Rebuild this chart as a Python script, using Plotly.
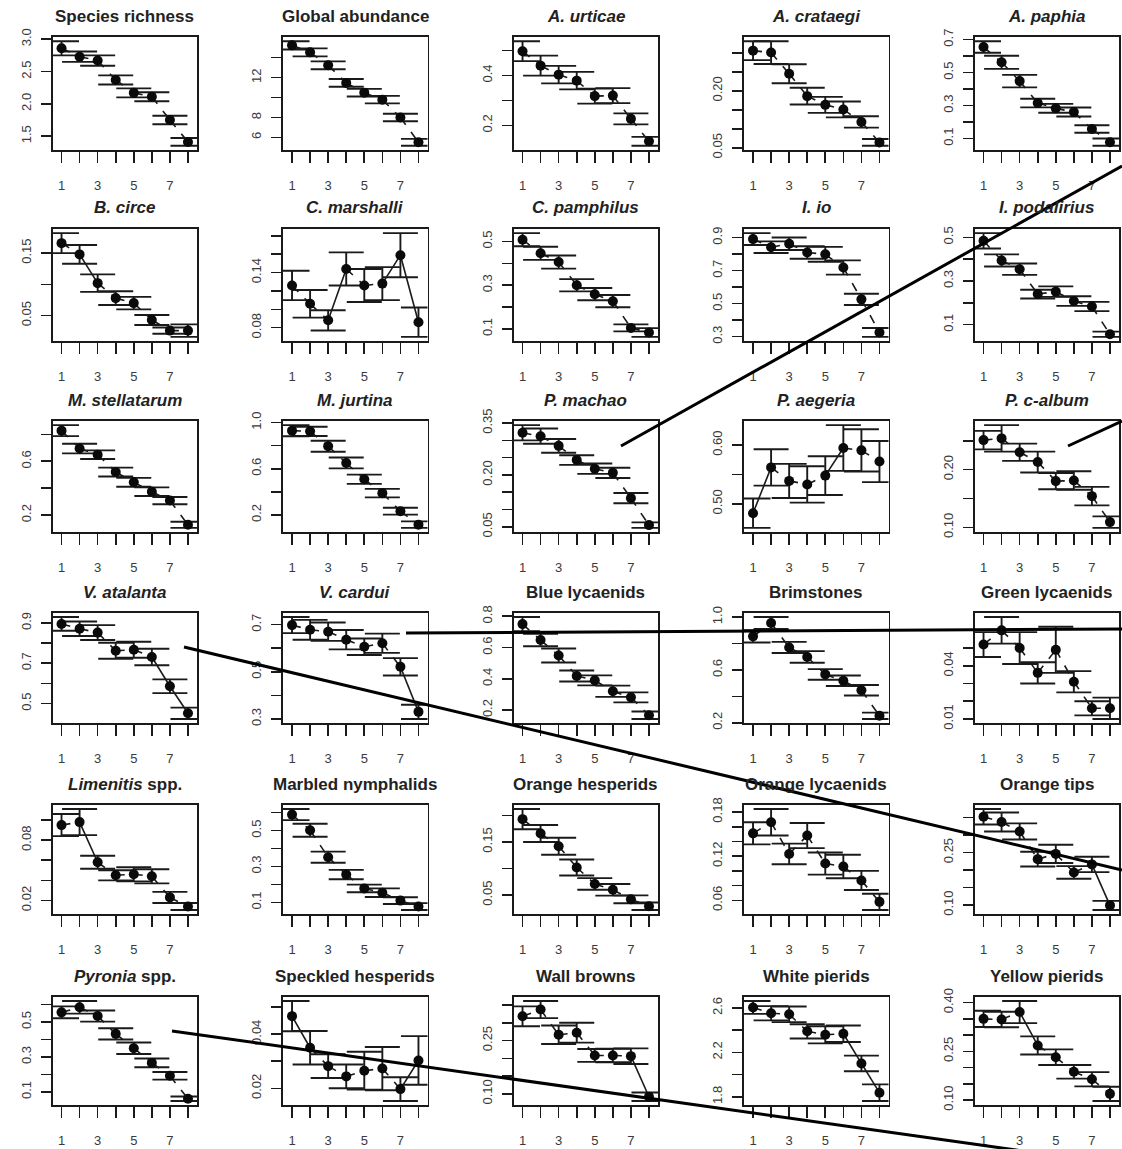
import plotly.graph_objects as go

# ---------------- data ----------------
x_steps = [1, 2, 3, 4, 5, 6, 7, 8]
x_tick_text = ["1", "", "3", "", "5", "", "7", ""]

panel_titles = [
    "Species richness", "Global abundance", "<i>A. urticae</i>", "<i>A. crataegi</i>", "<i>A. paphia</i>",
    "<i>B. circe</i>", "<i>C. marshalli</i>", "<i>C. pamphilus</i>", "<i>I. io</i>", "<i>I. podalirius</i>",
    "<i>M. stellatarum</i>", "<i>M. jurtina</i>", "<i>P. machao</i>", "<i>P. aegeria</i>", "<i>P. c-album</i>",
    "<i>V. atalanta</i>", "<i>V. cardui</i>", "Blue lycaenids", "Brimstones", "Green lycaenids",
    "<i>Limenitis</i> spp.", "Marbled nymphalids", "Orange hesperids", "Orange lycaenids", "Orange tips",
    "<i>Pyronia</i> spp.", "Speckled hesperids", "Wall browns", "White pierids", "Yellow pierids",
]

# means and half-widths of the confidence intervals
species_richness_mean = [2.86, 2.73, 2.67, 2.37, 2.17, 2.11, 1.75, 1.41]
species_richness_ci = [0.11, 0.08, 0.08, 0.07, 0.07, 0.07, 0.065, 0.06]
global_abundance_mean = [15.23, 14.53, 13.23, 11.47, 10.49, 9.79, 8.0, 5.51]
global_abundance_ci = [0.42, 0.4, 0.4, 0.39, 0.38, 0.38, 0.37, 0.35]
a_urticae_mean = [0.497, 0.439, 0.403, 0.379, 0.317, 0.319, 0.226, 0.136]
a_urticae_ci = [0.04, 0.04, 0.035, 0.035, 0.03, 0.03, 0.022, 0.018]
a_crataegi_mean = [0.306, 0.301, 0.245, 0.186, 0.163, 0.151, 0.118, 0.064]
a_crataegi_ci = [0.025, 0.03, 0.025, 0.022, 0.021, 0.021, 0.015, 0.009]
a_paphia_mean = [0.655, 0.562, 0.448, 0.315, 0.283, 0.261, 0.158, 0.078]
a_paphia_ci = [0.035, 0.04, 0.038, 0.026, 0.027, 0.027, 0.023, 0.022]
b_circe_mean = [0.166, 0.148, 0.102, 0.078, 0.070, 0.043, 0.026, 0.026]
b_circe_ci = [0.016, 0.015, 0.014, 0.011, 0.01, 0.008, 0.005, 0.01]
c_marshalli_mean = [0.126, 0.106, 0.088, 0.144, 0.126, 0.128, 0.159, 0.086]
c_marshalli_ci = [0.016, 0.015, 0.011, 0.018, 0.018, 0.018, 0.024, 0.016]
c_pamphilus_mean = [0.508, 0.446, 0.406, 0.300, 0.259, 0.227, 0.105, 0.084]
c_pamphilus_ci = [0.03, 0.03, 0.03, 0.028, 0.028, 0.028, 0.016, 0.02]
i_io_mean = [0.891, 0.842, 0.863, 0.81, 0.799, 0.719, 0.526, 0.326]
i_io_ci = [0.036, 0.035, 0.038, 0.038, 0.045, 0.043, 0.034, 0.027]
i_podalirius_mean = [0.484, 0.394, 0.354, 0.24, 0.251, 0.208, 0.183, 0.056]
i_podalirius_ci = [0.035, 0.028, 0.026, 0.02, 0.024, 0.022, 0.021, 0.012]
m_stellatarum_mean = [0.828, 0.695, 0.649, 0.52, 0.444, 0.374, 0.308, 0.128]
m_stellatarum_ci = [0.041, 0.036, 0.032, 0.033, 0.033, 0.032, 0.027, 0.023]
m_jurtina_mean = [0.93, 0.924, 0.795, 0.65, 0.509, 0.389, 0.233, 0.116]
m_jurtina_ci = [0.048, 0.04, 0.048, 0.047, 0.04, 0.037, 0.03, 0.028]
p_machao_mean = [0.322, 0.312, 0.284, 0.243, 0.218, 0.206, 0.133, 0.055]
p_machao_ci = [0.022, 0.022, 0.02, 0.014, 0.015, 0.015, 0.015, 0.008]
p_aegeria_mean = [0.484, 0.562, 0.539, 0.533, 0.548, 0.595, 0.591, 0.572]
p_aegeria_ci = [0.025, 0.031, 0.029, 0.031, 0.033, 0.039, 0.036, 0.035]
p_c_album_mean = [0.251, 0.254, 0.23, 0.213, 0.18, 0.181, 0.154, 0.109]
p_c_album_ci = [0.016, 0.023, 0.015, 0.018, 0.014, 0.016, 0.016, 0.01]
v_atalanta_mean = [0.895, 0.871, 0.852, 0.762, 0.767, 0.731, 0.586, 0.452]
v_atalanta_ci = [0.034, 0.036, 0.037, 0.04, 0.04, 0.041, 0.034, 0.028]
v_cardui_mean = [0.698, 0.678, 0.67, 0.636, 0.606, 0.621, 0.521, 0.33]
v_cardui_ci = [0.034, 0.042, 0.039, 0.041, 0.035, 0.041, 0.037, 0.03]
blue_lycaenids_mean = [0.75, 0.648, 0.549, 0.418, 0.39, 0.32, 0.281, 0.167]
blue_lycaenids_ci = [0.045, 0.04, 0.045, 0.035, 0.032, 0.036, 0.032, 0.024]
brimstones_mean = [0.854, 0.955, 0.77, 0.698, 0.566, 0.518, 0.446, 0.253]
brimstones_ci = [0.046, 0.045, 0.042, 0.044, 0.04, 0.04, 0.04, 0.024]
green_lycaenids_mean = [0.052, 0.06, 0.05, 0.036, 0.049, 0.031, 0.016, 0.016]
green_lycaenids_ci = [0.007, 0.0075, 0.009, 0.006, 0.013, 0.006, 0.004, 0.006]
limenitis_mean = [0.095, 0.098, 0.058, 0.045, 0.046, 0.044, 0.023, 0.014]
limenitis_ci = [0.011, 0.013, 0.0065, 0.005, 0.007, 0.007, 0.0055, 0.0035]
marbled_nymphalids_mean = [0.589, 0.502, 0.352, 0.255, 0.178, 0.154, 0.11, 0.077]
marbled_nymphalids_ci = [0.031, 0.036, 0.031, 0.026, 0.021, 0.024, 0.019, 0.019]
orange_hesperids_mean = [0.193, 0.166, 0.142, 0.102, 0.071, 0.06, 0.042, 0.029]
orange_hesperids_ci = [0.019, 0.016, 0.016, 0.015, 0.011, 0.011, 0.0075, 0.007]
orange_lycaenids_mean = [0.151, 0.166, 0.123, 0.148, 0.11, 0.106, 0.087, 0.058]
orange_lycaenids_ci = [0.015, 0.018, 0.014, 0.017, 0.015, 0.016, 0.013, 0.011]
orange_tips_mean = [0.352, 0.337, 0.31, 0.231, 0.246, 0.193, 0.216, 0.099]
orange_tips_ci = [0.022, 0.027, 0.023, 0.021, 0.026, 0.018, 0.022, 0.013]
pyronia_mean = [0.555, 0.584, 0.534, 0.432, 0.35, 0.266, 0.192, 0.061]
pyronia_ci = [0.034, 0.036, 0.032, 0.032, 0.033, 0.025, 0.022, 0.013]
speckled_hesperids_mean = [0.0467, 0.035, 0.0282, 0.0244, 0.0265, 0.0273, 0.0197, 0.0303]
speckled_hesperids_ci = [0.0056, 0.0062, 0.0044, 0.0044, 0.007, 0.008, 0.0044, 0.009]
wall_browns_mean = [0.318, 0.337, 0.266, 0.272, 0.208, 0.208, 0.206, 0.092]
wall_browns_ci = [0.028, 0.024, 0.026, 0.028, 0.018, 0.019, 0.022, 0.012]
white_pierids_mean = [2.604, 2.552, 2.542, 2.389, 2.358, 2.367, 2.1, 1.837]
white_pierids_ci = [0.058, 0.064, 0.07, 0.064, 0.077, 0.074, 0.07, 0.075]
yellow_pierids_mean = [0.35, 0.348, 0.371, 0.268, 0.232, 0.187, 0.164, 0.119]
yellow_pierids_ci = [0.025, 0.024, 0.034, 0.028, 0.024, 0.021, 0.022, 0.022]

# y-axis ticks and their labels (empty = label dropped, as in the original)
y_ticks = [
    [1.5, 2.0, 2.5, 3.0], [6, 8, 10, 12, 14], [0.2, 0.3, 0.4, 0.5],
    [0.05, 0.10, 0.15, 0.20, 0.25, 0.30], [0.1, 0.2, 0.3, 0.4, 0.5, 0.6, 0.7],
    [0.05, 0.10, 0.15], [0.08, 0.10, 0.12, 0.14, 0.16, 0.18], [0.1, 0.2, 0.3, 0.4, 0.5],
    [0.3, 0.4, 0.5, 0.6, 0.7, 0.8, 0.9], [0.1, 0.2, 0.3, 0.4, 0.5],
    [0.2, 0.4, 0.6, 0.8], [0.2, 0.4, 0.6, 0.8, 1.0], [0.05, 0.10, 0.15, 0.20, 0.25, 0.30, 0.35],
    [0.50, 0.55, 0.60], [0.10, 0.15, 0.20, 0.25],
    [0.5, 0.6, 0.7, 0.8, 0.9], [0.3, 0.4, 0.5, 0.6, 0.7], [0.2, 0.4, 0.6, 0.8],
    [0.2, 0.4, 0.6, 0.8, 1.0], [0.01, 0.02, 0.03, 0.04, 0.05, 0.06],
    [0.02, 0.04, 0.06, 0.08, 0.10], [0.1, 0.2, 0.3, 0.4, 0.5, 0.6], [0.05, 0.10, 0.15, 0.20],
    [0.06, 0.08, 0.10, 0.12, 0.14, 0.16, 0.18], [0.10, 0.15, 0.20, 0.25, 0.30, 0.35],
    [0.1, 0.2, 0.3, 0.4, 0.5, 0.6], [0.02, 0.03, 0.04, 0.05], [0.10, 0.15, 0.20, 0.25, 0.30, 0.35],
    [1.8, 2.0, 2.2, 2.4, 2.6], [0.10, 0.15, 0.20, 0.25, 0.30, 0.35, 0.40],
]
y_tick_text = [
    ["1.5", "2.0", "2.5", "3.0"], ["6", "8", "", "12", ""], ["0.2", "", "0.4", ""],
    ["0.05", "", "", "0.20", "", ""], ["0.1", "", "0.3", "", "0.5", "", "0.7"],
    ["0.05", "", "0.15"], ["0.08", "", "", "0.14", "", ""], ["0.1", "", "0.3", "", "0.5"],
    ["0.3", "", "0.5", "", "0.7", "", "0.9"], ["0.1", "", "0.3", "", "0.5"],
    ["0.2", "", "0.6", ""], ["0.2", "", "0.6", "", "1.0"], ["0.05", "", "", "0.20", "", "", "0.35"],
    ["0.50", "", "0.60"], ["0.10", "", "0.20", ""],
    ["0.5", "", "0.7", "", "0.9"], ["0.3", "", "0.5", "", "0.7"], ["0.2", "0.4", "0.6", "0.8"],
    ["0.2", "", "0.6", "", "1.0"], ["0.01", "", "", "0.04", "", ""],
    ["0.02", "", "", "0.08", ""], ["0.1", "", "0.3", "", "0.5", ""], ["0.05", "", "0.15", ""],
    ["0.06", "", "", "0.12", "", "", "0.18"], ["0.10", "", "", "0.25", "", ""],
    ["0.1", "", "0.3", "", "0.5", ""], ["0.02", "", "0.04", ""], ["0.10", "", "", "0.25", "", ""],
    ["1.8", "", "2.2", "", "2.6"], ["0.10", "", "", "0.25", "", "", "0.40"],
]

# style of each connecting segment: d = dashed, s = solid
segment_styles = [
    "ddddddd", "ddddddd", "ddddddd", "ddddddd", "ddddddd",
    "dsddddd", "ddsddss", "ddddddd", "ddddddd", "ddddddd",
    "ddddddd", "ddddddd", "ddddddd", "sdddsdd", "ddddddd",
    "dddddss", "dddddds", "ddddddd", "ddddddd", "ddddddd",
    "dsddddd", "ddddddd", "ddddddd", "ddddddd", "dddddds",
    "ddddddd", "sddddds", "dddddds", "dddddss", "ddsdddd",
]

panel_means = [
    species_richness_mean, global_abundance_mean, a_urticae_mean, a_crataegi_mean, a_paphia_mean,
    b_circe_mean, c_marshalli_mean, c_pamphilus_mean, i_io_mean, i_podalirius_mean,
    m_stellatarum_mean, m_jurtina_mean, p_machao_mean, p_aegeria_mean, p_c_album_mean,
    v_atalanta_mean, v_cardui_mean, blue_lycaenids_mean, brimstones_mean, green_lycaenids_mean,
    limenitis_mean, marbled_nymphalids_mean, orange_hesperids_mean, orange_lycaenids_mean, orange_tips_mean,
    pyronia_mean, speckled_hesperids_mean, wall_browns_mean, white_pierids_mean, yellow_pierids_mean,
]
panel_ci = [
    species_richness_ci, global_abundance_ci, a_urticae_ci, a_crataegi_ci, a_paphia_ci,
    b_circe_ci, c_marshalli_ci, c_pamphilus_ci, i_io_ci, i_podalirius_ci,
    m_stellatarum_ci, m_jurtina_ci, p_machao_ci, p_aegeria_ci, p_c_album_ci,
    v_atalanta_ci, v_cardui_ci, blue_lycaenids_ci, brimstones_ci, green_lycaenids_ci,
    limenitis_ci, marbled_nymphalids_ci, orange_hesperids_ci, orange_lycaenids_ci, orange_tips_ci,
    pyronia_ci, speckled_hesperids_ci, wall_browns_ci, white_pierids_ci, yellow_pierids_ci,
]

# ---------------- layout geometry (pixels) ----------------
W, H = 1122, 1149
COL_LEFT0, COL_PITCH, BOX_W = 52.5, 230.5, 144.5
TOP0, TOP_PITCH = 37, 192.0       # box top of each row
BOT0, BOT_PITCH = 150, 191.0      # box bottom of each row
FONT = "Liberation Sans, Arial, sans-serif"
INK = "#1a1a1a"

fig = go.Figure()
layout_axes = {}
annotations = []

for i in range(30):
    r, c = divmod(i, 5)
    left = COL_LEFT0 + COL_PITCH * c
    top = TOP0 + TOP_PITCH * r
    bottom = BOT0 + BOT_PITCH * r
    xd = [left / W, (left + BOX_W) / W]
    yd = [1 - bottom / H, 1 - top / H]
    sx = "" if i == 0 else str(i + 1)
    xname, yname = "x" + sx, "y" + sx

    m = panel_means[i]
    e = panel_ci[i]
    lo = min(a - b for a, b in zip(m, e))
    hi = max(a + b for a, b in zip(m, e))
    ext = 0.04 * (hi - lo)

    # connecting segments
    for style, dash in (("d", "dash"), ("s", "solid")):
        xs, ys = [], []
        for k, st in enumerate(segment_styles[i]):
            if st == style:
                xs += [x_steps[k], x_steps[k + 1], None]
                ys += [m[k], m[k + 1], None]
        if xs:
            fig.add_trace(go.Scatter(
                x=xs, y=ys, mode="lines", xaxis=xname, yaxis=yname,
                line=dict(color=INK, width=1.6, dash=dash), hoverinfo="skip", showlegend=False,
            ))

    fig.add_trace(go.Scatter(
        x=x_steps, y=m, mode="markers", xaxis=xname, yaxis=yname,
        marker=dict(color="#0a0a0a", size=10),
        error_y=dict(type="data", array=e, symmetric=True, width=17.5, thickness=1.9, color=INK),
        showlegend=False, cliponaxis=True,
    ))

    common = dict(showgrid=False, zeroline=False, showline=True, mirror=True,
                  linecolor=INK, linewidth=1.7, ticks="outside", tickcolor=INK,
                  tickwidth=1.6, tickfont=dict(family=FONT, size=13, color="#3a3a3a"))
    layout_axes["xaxis" + sx] = dict(
        domain=xd, anchor=yname, range=[0.5, 8.5], tickmode="array",
        tickvals=x_steps, ticktext=x_tick_text, ticklen=11, ticklabelstandoff=12, **common)
    layout_axes["yaxis" + sx] = dict(
        domain=yd, anchor=xname, range=[lo - ext, hi + ext], tickmode="array",
        tickvals=y_ticks[i], ticktext=y_tick_text[i], ticklen=10, tickangle=-90,
        ticklabelstandoff=5, **common)

    annotations.append(dict(
        text="<b>" + panel_titles[i] + "</b>", xref="paper", yref="paper",
        x=(left + BOX_W / 2) / W, y=1 - (top - 21) / H, xanchor="center", yanchor="middle",
        showarrow=False, font=dict(family=FONT, size=17, color="#222222"),
    ))

# overlaid straight strokes present on the original figure (pixel coordinates)
strokes = [
    (621, 446, 1122, 166), (1068, 446, 1122, 421), (406, 633, 1122, 629),
    (184, 647, 1122, 870), (172, 1031, 1030, 1152),
]
shapes = [dict(type="line", xref="paper", yref="paper", x0=a / W, y0=1 - b / H,
               x1=c / W, y1=1 - d / H, line=dict(color="black", width=3), layer="above")
          for a, b, c, d in strokes]

fig.update_layout(
    width=W, height=H, autosize=False,
    margin=dict(l=0, r=0, t=0, b=0, pad=0, autoexpand=False),
    paper_bgcolor="white", plot_bgcolor="white", showlegend=False,
    annotations=annotations, shapes=shapes, **layout_axes,
)

fig.write_html(
    "out.html",
    config={"displayModeBar": False, "staticPlot": True},
    post_script="document.body.style.margin='0px';document.body.style.overflow='hidden';",
)
